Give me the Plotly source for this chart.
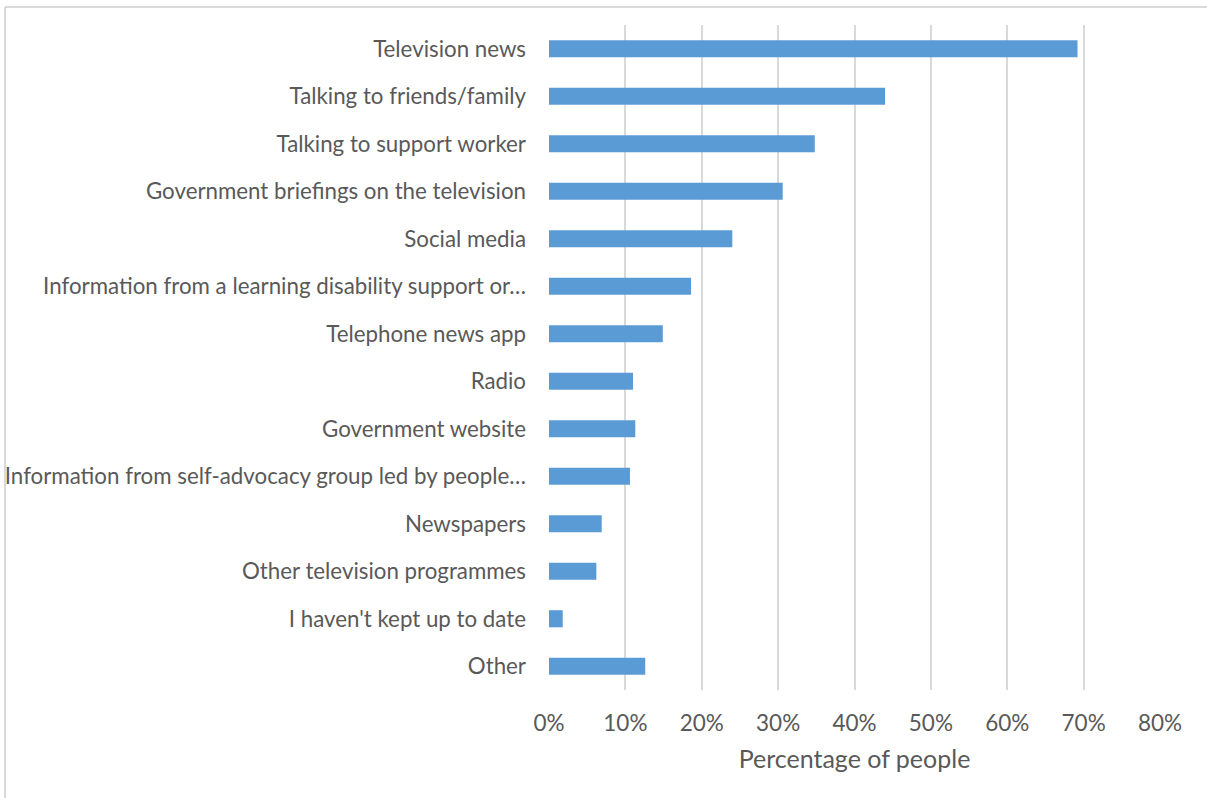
import plotly.graph_objects as go

# Sources of information, listed top to bottom
categories = [
    "Television news",
    "Talking to friends/family",
    "Talking to support worker",
    "Government briefings on the television",
    "Social media",
    "Information from a learning disability support or\u2026",
    "Telephone news app",
    "Radio",
    "Government website",
    "Information from self-advocacy group led by people\u2026",
    "Newspapers",
    "Other television programmes",
    "I haven't kept up to date",
    "Other",
]
# Share of people using each source (%)
percent = [69.2, 44.0, 34.8, 30.6, 24.0, 18.6, 14.9, 11.0, 11.3, 10.6, 6.9, 6.2, 1.8, 12.6]
x_ticks = [0, 10, 20, 30, 40, 50, 60, 70, 80]
x_tick_labels = [f"{t}%" for t in x_ticks]

W, H = 1207, 798
L, R, T, B = 549, 47, 25, 108
TEXT = "#595959"
FONT = "Lato, 'Open Sans', sans-serif"

fig = go.Figure(
    go.Bar(
        y=categories,
        x=percent,
        orientation="h",
        marker=dict(color="#5B9BD5", line=dict(width=0)),
        width=0.36,
        hoverinfo="x+y",
    )
)

fig.update_layout(
    width=W,
    height=H,
    margin=dict(l=L, r=R, t=T, b=B, autoexpand=False),
    paper_bgcolor="white",
    plot_bgcolor="white",
    showlegend=False,
    font=dict(family=FONT, color=TEXT, size=22),
    xaxis=dict(
        range=[0, 80],
        tickvals=x_ticks,
        ticktext=x_tick_labels,
        showgrid=True,
        gridcolor="#D9D9D9",
        gridwidth=1.5,
        zeroline=False,
        showline=False,
        ticks="",
        ticklabelstandoff=17,
        tickfont=dict(size=22.5, color=TEXT),
        title=dict(text="Percentage of people", font=dict(size=25, color=TEXT), standoff=15),
        automargin=False,
        fixedrange=True,
    ),
    yaxis=dict(
        categoryorder="array",
        categoryarray=categories[::-1],
        autorange=False,
        range=[-0.5, len(categories) - 0.5],
        showgrid=False,
        zeroline=False,
        showline=False,
        ticks="",
        ticklabelstandoff=22,
        tickfont=dict(size=22.3, color=TEXT),
        automargin=False,
        fixedrange=True,
    ),
)

# Light frame around the chart area (top and left edges)
plot_w = W - L - R
plot_h = H - T - B
def px_x(p):
    return (p - L) / plot_w

def px_y(p):
    return 1 - (p - T) / plot_h

frame = dict(color="#D9D9D9", width=2)
fig.add_shape(type="line", xref="paper", yref="paper",
              x0=px_x(5), x1=px_x(W), y0=px_y(7), y1=px_y(7), line=frame, layer="below")
fig.add_shape(type="line", xref="paper", yref="paper",
              x0=px_x(5), x1=px_x(5), y0=px_y(7), y1=px_y(H), line=frame, layer="below")

fig.write_html("out.html")
